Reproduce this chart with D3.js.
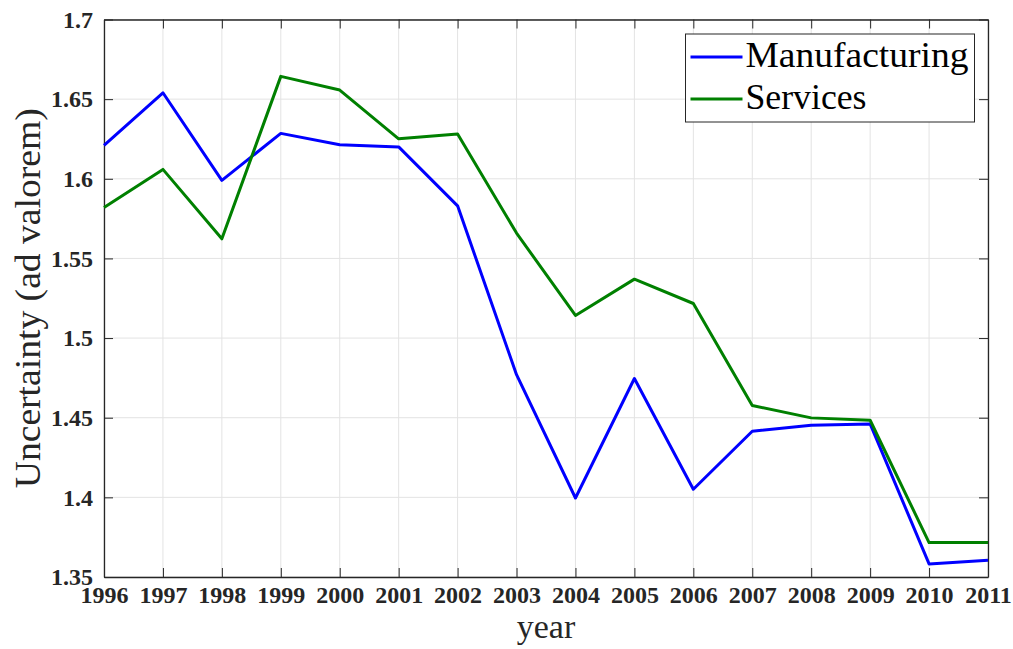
<!DOCTYPE html>
<html>
<head>
<meta charset="utf-8">
<script src="https://cdn.jsdelivr.net/npm/d3@7"></script>
<style>
  body { margin: 0; background: #fff; }
  svg { display: block; }
</style>
</head>
<body>
<div id="chart"></div>
<script>
// data
var years = [1996, 1997, 1998, 1999, 2000, 2001, 2002, 2003, 2004, 2005, 2006, 2007, 2008, 2009, 2010, 2011];
var manufacturing = [1.621, 1.654, 1.599, 1.6285, 1.6214, 1.620, 1.583, 1.477, 1.3996, 1.4746, 1.4051, 1.4415, 1.4453, 1.4461, 1.3582, 1.3605];
var services = [1.582, 1.6059, 1.5623, 1.6643, 1.6557, 1.6251, 1.6281, 1.5659, 1.5142, 1.537, 1.5217, 1.4577, 1.4499, 1.4484, 1.3716, 1.3716];
var yTicks = [1.35, 1.4, 1.45, 1.5, 1.55, 1.6, 1.65, 1.7];
var seriesNames = ["Manufacturing", "Services"];
var seriesColors = ["#0000ff", "#008000"];

var W = 1013, H = 649;
var margin = {top: 19.5, right: 25, bottom: 72, left: 104};
var width = W - margin.left - margin.right,
    height = H - margin.top - margin.bottom;
var serif = "Liberation Serif, Times New Roman, serif";

var svg = d3.select("#chart").append("svg")
    .attr("width", W)
    .attr("height", H);

var g = svg.append("g")
    .attr("transform", "translate(" + margin.left + "," + margin.top + ")");

var x = d3.scaleLinear().domain([1996, 2011]).range([0, width]);
var y = d3.scaleLinear().domain([1.35, 1.7]).range([height, 0]);

// grid
g.append("g").selectAll("line")
    .data(years).enter().append("line")
    .attr("x1", function(d) { return x(d); })
    .attr("x2", function(d) { return x(d); })
    .attr("y1", 0).attr("y2", height)
    .attr("stroke", "#e3e3e3").attr("stroke-width", 1);
g.append("g").selectAll("line")
    .data(yTicks).enter().append("line")
    .attr("y1", function(d) { return y(d); })
    .attr("y2", function(d) { return y(d); })
    .attr("x1", 0).attr("x2", width)
    .attr("stroke", "#e3e3e3").attr("stroke-width", 1);

// axes (ticks inside, box on)
var axisColor = "#262626";
var tickLen = 9;
var fmtY = function(d) { return String(+d.toFixed(2)); };

var xAxis = g.append("g")
    .attr("transform", "translate(0," + height + ")")
    .call(d3.axisBottom(x).tickValues(years).tickFormat(d3.format("d")).tickSizeInner(-tickLen).tickSizeOuter(0).tickPadding(14));
var xTop = g.append("g")
    .call(d3.axisTop(x).tickValues(years).tickFormat("").tickSizeInner(-tickLen).tickSizeOuter(0));
var yAxis = g.append("g")
    .call(d3.axisLeft(y).tickValues(yTicks).tickFormat(fmtY).tickSizeInner(-tickLen).tickSizeOuter(0).tickPadding(11));
var yRight = g.append("g")
    .attr("transform", "translate(" + width + ",0)")
    .call(d3.axisRight(y).tickValues(yTicks).tickFormat("").tickSizeInner(-tickLen).tickSizeOuter(0));

[xAxis, xTop, yAxis, yRight].forEach(function(a) {
    a.selectAll("path.domain").attr("stroke", axisColor).attr("stroke-width", 1.3);
    a.selectAll(".tick line").attr("stroke", axisColor).attr("stroke-width", 1);
    a.selectAll("text")
        .attr("fill", axisColor)
        .attr("font-family", serif)
        .attr("font-weight", "bold")
        .attr("font-size", 24);
});
xAxis.selectAll("text").attr("dy", "0.5em");

// lines
var line = d3.line()
    .x(function(d, i) { return x(years[i]); })
    .y(function(d) { return y(d); });

[manufacturing, services].forEach(function(vals, i) {
    g.append("path")
        .datum(vals)
        .attr("fill", "none")
        .attr("stroke", seriesColors[i])
        .attr("stroke-width", 3)
        .attr("stroke-linejoin", "round")
        .attr("d", line);
});

// axis labels
svg.append("text")
    .attr("x", margin.left + width / 2)
    .attr("y", 638)
    .attr("text-anchor", "middle")
    .attr("fill", axisColor)
    .attr("font-family", serif)
    .attr("font-size", 34)
    .text("year");

svg.append("text")
    .attr("transform", "translate(40," + (margin.top + height / 2) + ") rotate(-90)")
    .attr("text-anchor", "middle")
    .attr("fill", axisColor)
    .attr("font-family", serif)
    .attr("font-size", 35)
    .attr("textLength", 380)
    .attr("lengthAdjust", "spacingAndGlyphs")
    .text("Uncertainty (ad valorem)");

// legend
var legend = svg.append("g").attr("transform", "translate(685.5,34)");
legend.append("rect")
    .attr("width", 289).attr("height", 88)
    .attr("fill", "#fff")
    .attr("stroke", axisColor).attr("stroke-width", 1);
seriesNames.forEach(function(name, i) {
    var ly = 23 + i * 42;
    legend.append("line")
        .attr("x1", 5).attr("x2", 57)
        .attr("y1", ly).attr("y2", ly)
        .attr("stroke", seriesColors[i]).attr("stroke-width", 3);
    legend.append("text")
        .attr("x", 60).attr("y", ly + 10)
        .attr("fill", "#000")
        .attr("font-family", serif)
        .attr("font-size", 35)
        .attr("textLength", i === 0 ? 223 : 121)
        .attr("lengthAdjust", "spacingAndGlyphs")
        .text(name);
});
</script>
</body>
</html>
